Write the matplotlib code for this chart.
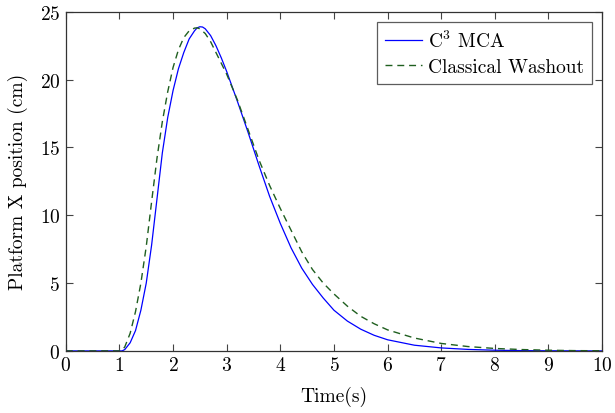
import matplotlib
matplotlib.use("Agg")
import matplotlib.pyplot as plt

plt.rcParams['font.family'] = 'serif'
plt.rcParams['font.serif'] = ['cmr10']
plt.rcParams['mathtext.fontset'] = 'cm'
plt.rcParams['axes.formatter.use_mathtext'] = True

t_c3 = [0, 0.5, 1.0, 1.05, 1.1, 1.2, 1.3, 1.4, 1.5, 1.6, 1.7, 1.8, 1.9, 2.0, 2.1, 2.2, 2.3, 2.4,
        2.45, 2.5, 2.55, 2.6, 2.7, 2.8, 2.9, 3.0, 3.2, 3.4, 3.6, 3.8, 4.0, 4.2, 4.4, 4.6, 4.8, 5.0, 5.25,
        5.5, 5.75, 6.0, 6.5, 7.0, 7.5, 8.0, 8.5, 9.0, 10.0]
x_c3 = [0, 0, 0, 0.0, 0.1, 0.6, 1.5, 3.0, 5.0, 7.8, 11.2, 14.6, 17.2, 19.2, 20.8, 22.0, 23.0, 23.6,
        23.82, 23.9, 23.88, 23.75, 23.25, 22.5, 21.6, 20.6, 18.4, 16.1, 13.7, 11.4, 9.4, 7.6, 6.1, 4.9, 3.9, 3.0, 2.2,
        1.6, 1.15, 0.82, 0.42, 0.22, 0.11, 0.05, 0.02, 0.01, 0.0]

t_cw = [0, 0.5, 1.0, 1.05, 1.1, 1.2, 1.3, 1.4, 1.5, 1.6, 1.7, 1.8, 1.9, 2.0, 2.1, 2.2, 2.3, 2.4,
        2.45, 2.5, 2.6, 2.7, 2.8, 2.9, 3.0, 3.2, 3.4, 3.6, 3.8, 4.0, 4.2, 4.4, 4.6, 4.8, 5.0, 5.25,
        5.5, 5.75, 6.0, 6.5, 7.0, 7.5, 8.0, 8.5, 9.0, 9.5, 10.0]
x_cw = [0, 0, 0, 0.05, 0.3, 1.3, 2.9, 5.0, 7.7, 11.0, 14.2, 16.9, 19.1, 20.9, 22.2, 23.1, 23.6, 23.8,
        23.82, 23.75, 23.4, 22.8, 22.0, 21.2, 20.4, 18.5, 16.3, 14.1, 12.2, 10.5, 8.9, 7.3, 6.0, 5.0, 4.2, 3.3,
        2.55, 2.0, 1.55, 0.95, 0.55, 0.32, 0.18, 0.1, 0.05, 0.02, 0.01]

x_ticks = [0, 1, 2, 3, 4, 5, 6, 7, 8, 9, 10]
y_ticks = [0, 5, 10, 15, 20, 25]

fig = plt.figure(figsize=(6.15, 4.14), dpi=100)
ax = fig.add_axes([0.107, 0.150, 0.872, 0.819])

ax.plot(t_c3, x_c3, color='#0000ff', lw=0.9, label='C$^3$ MCA')
ax.plot(t_cw, x_cw, color='#1f5f1f', lw=1.0, ls=(0, (5, 3.5)), label='Classical Washout')

ax.set_xlim(0, 10)
ax.set_ylim(0, 25)
ax.set_xticks(x_ticks)
ax.set_yticks(y_ticks)
ax.tick_params(direction='in', top=True, right=True, length=5, width=0.8,
               labelsize=14, color='#444444', pad=4)
for s in ax.spines.values():
    s.set_color('#333333')
    s.set_linewidth(0.9)

ax.set_xlabel('Time(s)', fontsize=14, labelpad=8)
ax.set_ylabel('Platform X position (cm)', fontsize=14, labelpad=8)

leg = ax.legend(loc='upper right', fontsize=14, frameon=True, fancybox=False,
                edgecolor='#333333', handlelength=1.9, borderpad=0.4,
                labelspacing=0.4, handletextpad=0.35, borderaxespad=0.5)
leg.get_frame().set_linewidth(0.9)

fig.savefig('out.png', dpi=100)
